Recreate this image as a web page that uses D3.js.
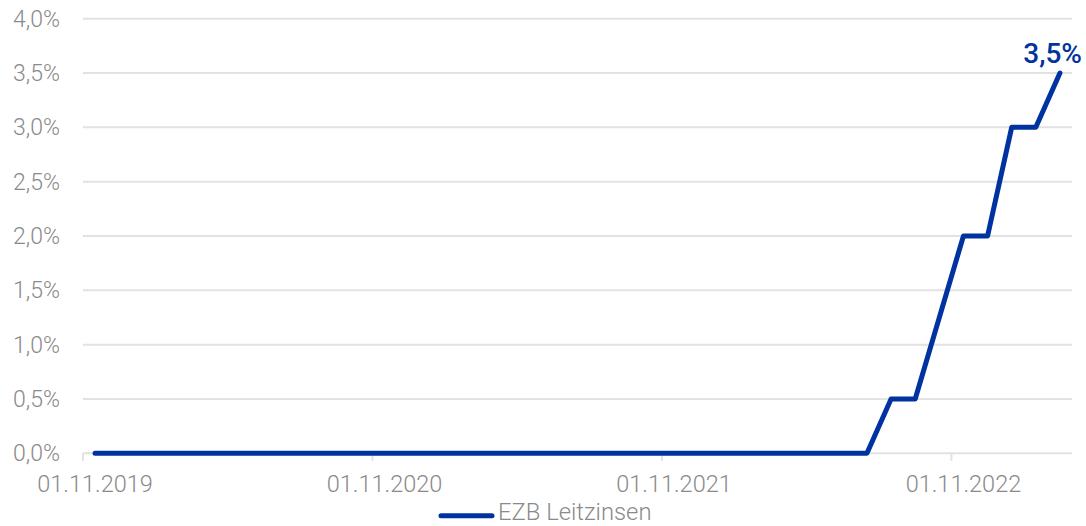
<!DOCTYPE html>
<html>
<head>
<meta charset="utf-8">
<script src="https://cdn.jsdelivr.net/npm/d3@7"></script>
<style>
  html, body { margin: 0; padding: 0; background: #fff; }
  svg { display: block; font-family: Roboto, "Noto Sans", sans-serif; }
</style>
</head>
<body>
<svg id="chart" width="1086" height="526"></svg>
<script>
// Monthly categories, Nov 2019 – Mar 2023
const months = d3.timeMonth.range(new Date(2019, 10, 1), new Date(2023, 3, 1));

// ECB key rate (%) per month
const rates = [
  0, 0, 0, 0, 0, 0, 0, 0, 0, 0, 0, 0,   // Nov 2019 – Oct 2020
  0, 0, 0, 0, 0, 0, 0, 0, 0, 0, 0, 0,   // Nov 2020 – Oct 2021
  0, 0, 0, 0, 0, 0, 0, 0, 0,            // Nov 2021 – Jul 2022
  0.5, 0.5, 1.25, 2.0, 2.0, 3.0, 3.0, 3.5 // Aug 2022 – Mar 2023
];

const yTicks = [0, 0.5, 1.0, 1.5, 2.0, 2.5, 3.0, 3.5, 4.0];
const xTickLabels = ["01.11.2019", "01.11.2020", "01.11.2021", "01.11.2022"];
const seriesName = "EZB Leitzinsen";

const blue = "#0033a0";
const grey = "#8a8a8a";
const gridColor = "#e2e2e2";

const margin = { left: 83, right: 14, top: 18.7, bottom: 72.7 };
const W = 1086, H = 526;
const svg = d3.select("#chart");

const fmtDate = d3.timeFormat("%d.%m.%Y");
const fmtPct = v => d3.format(".1f")(v).replace(".", ",") + "%";

const x = d3.scaleBand()
  .domain(months.map(fmtDate))
  .range([margin.left, W - margin.right])
  .padding(0);

const y = d3.scaleLinear()
  .domain([0, 4])
  .range([H - margin.bottom, margin.top]);

const data = months.map((m, i) => ({ key: fmtDate(m), value: rates[i] }));
const cx = d => x(d.key) + x.bandwidth() / 2;

// horizontal grid lines
svg.append("g")
  .selectAll("line")
  .data(yTicks)
  .join("line")
  .attr("x1", x.range()[0])
  .attr("x2", x.range()[1])
  .attr("y1", d => y(d))
  .attr("y2", d => y(d))
  .attr("stroke", gridColor)
  .attr("stroke-width", 2);

// y labels
svg.append("g")
  .selectAll("text")
  .data(yTicks)
  .join("text")
  .attr("x", 60)
  .attr("y", d => y(d))
  .attr("dy", "0.35em")
  .attr("text-anchor", "end")
  .attr("fill", grey)
  .attr("font-size", 23)
  .attr("font-weight", 300)
  .text(fmtPct);

// x ticks at band boundaries, labels centred on the band
const xTicks = svg.append("g")
  .selectAll("g")
  .data(xTickLabels)
  .join("g");

xTicks.append("line")
  .attr("x1", d => x(d))
  .attr("x2", d => x(d))
  .attr("y1", y(0))
  .attr("y2", y(0) + 7.5)
  .attr("stroke", gridColor)
  .attr("stroke-width", 2);

xTicks.append("text")
  .attr("x", d => x(d) + x.bandwidth() / 2)
  .attr("y", 492)
  .attr("text-anchor", "middle")
  .attr("fill", grey)
  .attr("font-size", 23.5)
  .attr("font-weight", 300)
  .text(d => d);

// rate line
const line = d3.line()
  .x(cx)
  .y(d => y(d.value));

svg.append("path")
  .datum(data)
  .attr("d", line)
  .attr("fill", "none")
  .attr("stroke", blue)
  .attr("stroke-width", 5)
  .attr("stroke-linejoin", "round")
  .attr("stroke-linecap", "round");

// last value label
const last = data[data.length - 1];
svg.append("text")
  .attr("x", cx(last) + 22)
  .attr("y", y(last.value) - 10)
  .attr("text-anchor", "end")
  .attr("fill", blue)
  .attr("font-size", 28)
  .attr("font-weight", 500)
  .text(fmtPct(last.value));

// legend
const lg = svg.append("g").attr("transform", "translate(439, 515.7)");
lg.append("line")
  .attr("x1", 2).attr("x2", 53)
  .attr("y1", 0).attr("y2", 0)
  .attr("stroke", blue)
  .attr("stroke-width", 5)
  .attr("stroke-linecap", "round");
lg.append("text")
  .attr("x", 59)
  .attr("y", 4)
  .attr("fill", grey)
  .attr("font-size", 23.8)
  .attr("font-weight", 300)
  .text(seriesName);
</script>
</body>
</html>
